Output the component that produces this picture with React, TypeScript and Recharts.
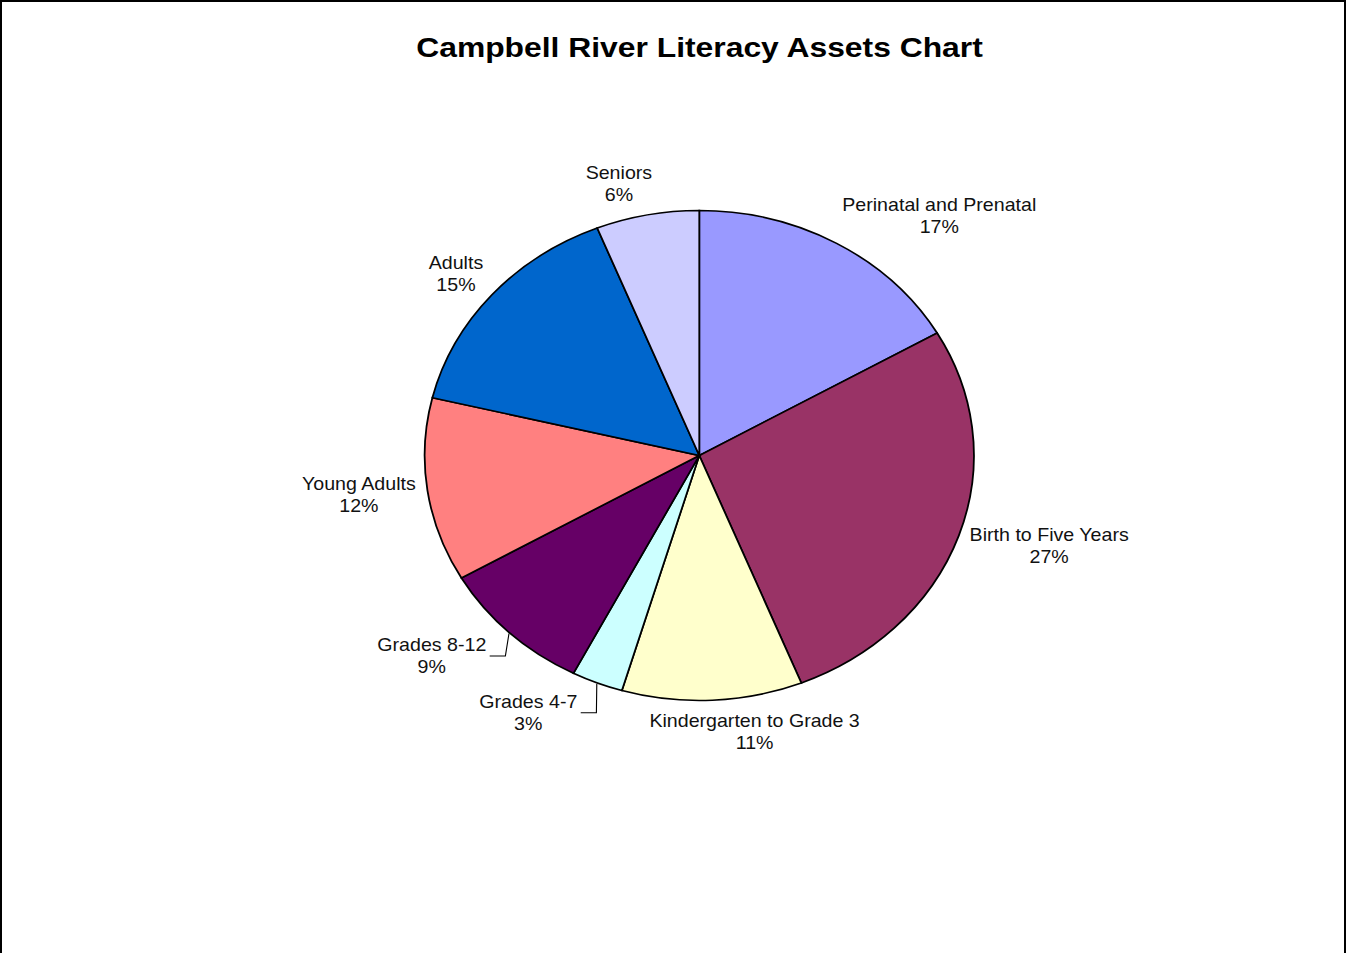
import React from 'react';
import { PieChart, Pie, Cell } from 'recharts';

const CATEGORIES = [
  'Perinatal and Prenatal',
  'Birth to Five Years',
  'Kindergarten to Grade 3',
  'Grades 4-7',
  'Grades 8-12',
  'Young Adults',
  'Adults',
  'Seniors',
];
const ASSET_COUNTS = [11, 18, 7, 2, 6, 8, 10, 4];
const SLICE_COLORS = ['#9999FF', '#993366', '#FFFFCC', '#CCFFFF', '#660066', '#FF8080', '#0066CC', '#CCCCFF'];
const LEADER_LABELS = ['Grades 8-12', 'Grades 4-7'];
const TITLE = 'Campbell River Literacy Assets Chart';

const data = CATEGORIES.map((name, i) => ({ name, value: ASSET_COUNTS[i] }));
const total = ASSET_COUNTS.reduce((a, b) => a + b, 0);

const SCALE_X = 1.121;
const W = 1346;
const H = 953;
const CHART_W = Math.round(W / SCALE_X);
const FONT = '"Liberation Sans", Arial, Helvetica, sans-serif';
const FONT_SIZE = 17.5;
const LINE_H = 22;

let ctx: CanvasRenderingContext2D | null = null;
function measure(text: string): number {
  if (!ctx) {
    const c = document.createElement('canvas');
    ctx = c.getContext('2d');
  }
  if (!ctx) return text.length * FONT_SIZE * 0.5;
  ctx.font = `${FONT_SIZE}px ${FONT}`;
  return ctx.measureText(text).width;
}

const renderLabel = (props: any) => {
  const { cx, cy, midAngle, outerRadius, name, value } = props;
  const rad = (-midAngle * Math.PI) / 180;
  const dx = Math.cos(rad);
  const dy = Math.sin(rad);
  const r = outerRadius + 10;
  const px = cx + r * dx;
  const py = cy + r * dy;
  const pct = props.percent != null ? props.percent : value / total;
  const line2 = `${Math.round(pct * 100)}%`;
  const w = Math.max(measure(name), measure(line2));
  const h = LINE_H * 2;
  const f = Math.sign(dx) * Math.min(1, Math.sqrt(3.3 * Math.abs(dx)));
  let tx = px + (f * w) / 2;
  const ty = py + (dy * h) / 2;
  const leader = LEADER_LABELS.includes(name);
  if (leader) tx -= 14;
  const right = tx + w / 2;
  const ex = cx + (outerRadius + 1) * dx;
  const ey = cy + (outerRadius + 1) * dy;
  return (
    <g key={`lbl-${name}`}>
      {leader && (
        <polyline
          points={`${right + 3},${ty} ${right + 17},${ty} ${ex},${ey}`}
          fill="none"
          stroke="#000"
          strokeWidth={1}
        />
      )}
      <text
        x={tx}
        y={ty - LINE_H / 2}
        textAnchor="middle"
        dominantBaseline="central"
        fontFamily={FONT}
        fontSize={FONT_SIZE}
        fill="#111"
      >
        {name}
      </text>
      <text
        x={tx}
        y={ty + LINE_H / 2}
        textAnchor="middle"
        dominantBaseline="central"
        fontFamily={FONT}
        fontSize={FONT_SIZE}
        fill="#111"
      >
        {line2}
      </text>
    </g>
  );
};

export default function App() {
  return (
    <div style={{ position: 'absolute', left: 0, top: 0, width: W, height: H, overflow: 'hidden', background: '#fff' }}>
      <div
        style={{
          position: 'absolute',
          left: 0,
          top: 0,
          width: W,
          height: H,
          boxSizing: 'border-box',
          borderTop: '2px solid #000',
          borderLeft: '2px solid #000',
          borderRight: '2px solid #000',
        }}
      />
      <div style={{ position: 'absolute', left: 0, top: 0, width: CHART_W, height: H, transform: `scaleX(${SCALE_X})`, transformOrigin: '0 0' }}>
        <PieChart width={CHART_W} height={H} margin={{ top: 0, right: 0, bottom: 0, left: 0 }}>
          <Pie
            data={data}
            dataKey="value"
            nameKey="name"
            cx={623.8}
            cy={455.5}
            outerRadius={245}
            startAngle={90}
            endAngle={-270}
            stroke="#000"
            strokeWidth={1.6}
            label={renderLabel}
            labelLine={false}
            isAnimationActive={false}
          >
            {data.map((d, i) => (
              <Cell key={d.name} fill={SLICE_COLORS[i]} />
            ))}
          </Pie>
        </PieChart>
        <svg width={CHART_W} height={H} style={{ position: 'absolute', left: 0, top: 0, pointerEvents: 'none' }}>
          <text x={624} y={57.5} textAnchor="middle" fontFamily={FONT} fontWeight="bold" fontSize={28.4} fill="#000">
            {TITLE}
          </text>
        </svg>
      </div>
    </div>
  );
}
